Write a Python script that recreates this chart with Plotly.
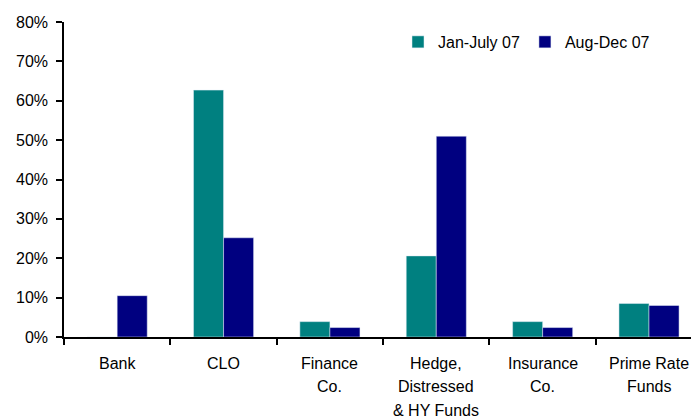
import plotly.graph_objects as go

categories = ["Bank", "CLO", "Finance<br>Co.", "Hedge,<br>Distressed<br>& HY Funds", "Insurance<br>Co.", "Prime Rate<br>Funds"]
cat_keys = ["Bank", "CLO", "Finance Co.", "Hedge", "Insurance Co.", "Prime Rate Funds"]
jan_july_07 = [0.0, 0.627, 0.039, 0.206, 0.039, 0.085]
aug_dec_07 = [0.105, 0.252, 0.024, 0.510, 0.024, 0.080]
series_names = ["Jan-July 07", "Aug-Dec 07"]
y_ticks = [0, 0.1, 0.2, 0.3, 0.4, 0.5, 0.6, 0.7, 0.8]

FONT = "Liberation Sans, Arial, sans-serif"
FS = 16

fig = go.Figure()
fig.add_trace(go.Bar(x=cat_keys, y=jan_july_07, name=series_names[0], marker_color="#008080"))
fig.add_trace(go.Bar(x=cat_keys, y=aug_dec_07, name=series_names[1], marker_color="#000080"))

# multi-line category labels as annotations
for key, label in zip(cat_keys, categories):
    for i, line in enumerate(label.split("<br>")):
        fig.add_annotation(x=key, y=0, xref="x", yref="y", text=line, showarrow=False,
                           yshift=-26.5 - 23.3 * i, font=dict(family=FONT, size=FS, color="#000"),
                           xanchor="center", yanchor="middle")

fig.update_layout(
    width=691, height=411,
    margin=dict(l=56, r=0, t=14, b=81.5, autoexpand=False),
    paper_bgcolor="white", plot_bgcolor="white",
    barmode="group", bargap=0.435, bargroupgap=0,
    font=dict(family=FONT, size=FS, color="#000"),
    legend=dict(orientation="h", x=0.526, y=0.9366, xanchor="left", yanchor="middle",
                font=dict(size=FS), itemwidth=30, bgcolor="rgba(0,0,0,0)"),
    xaxis=dict(range=[-0.5, 5.47], showticklabels=False, ticks="outside", tickson="boundaries",
               ticklen=6, tickwidth=1.5, tickcolor="#000", showline=True, linecolor="#000",
               linewidth=1.5, showgrid=False, zeroline=False),
    yaxis=dict(range=[0, 0.8], tickvals=y_ticks, tickformat=".0%", ticks="outside", ticklen=6,
               tickwidth=1.5, tickcolor="#000", showline=True, linecolor="#000", linewidth=1.5,
               showgrid=False, zeroline=False, ticklabelstandoff=5),
)

fig.write_html("out.html")
